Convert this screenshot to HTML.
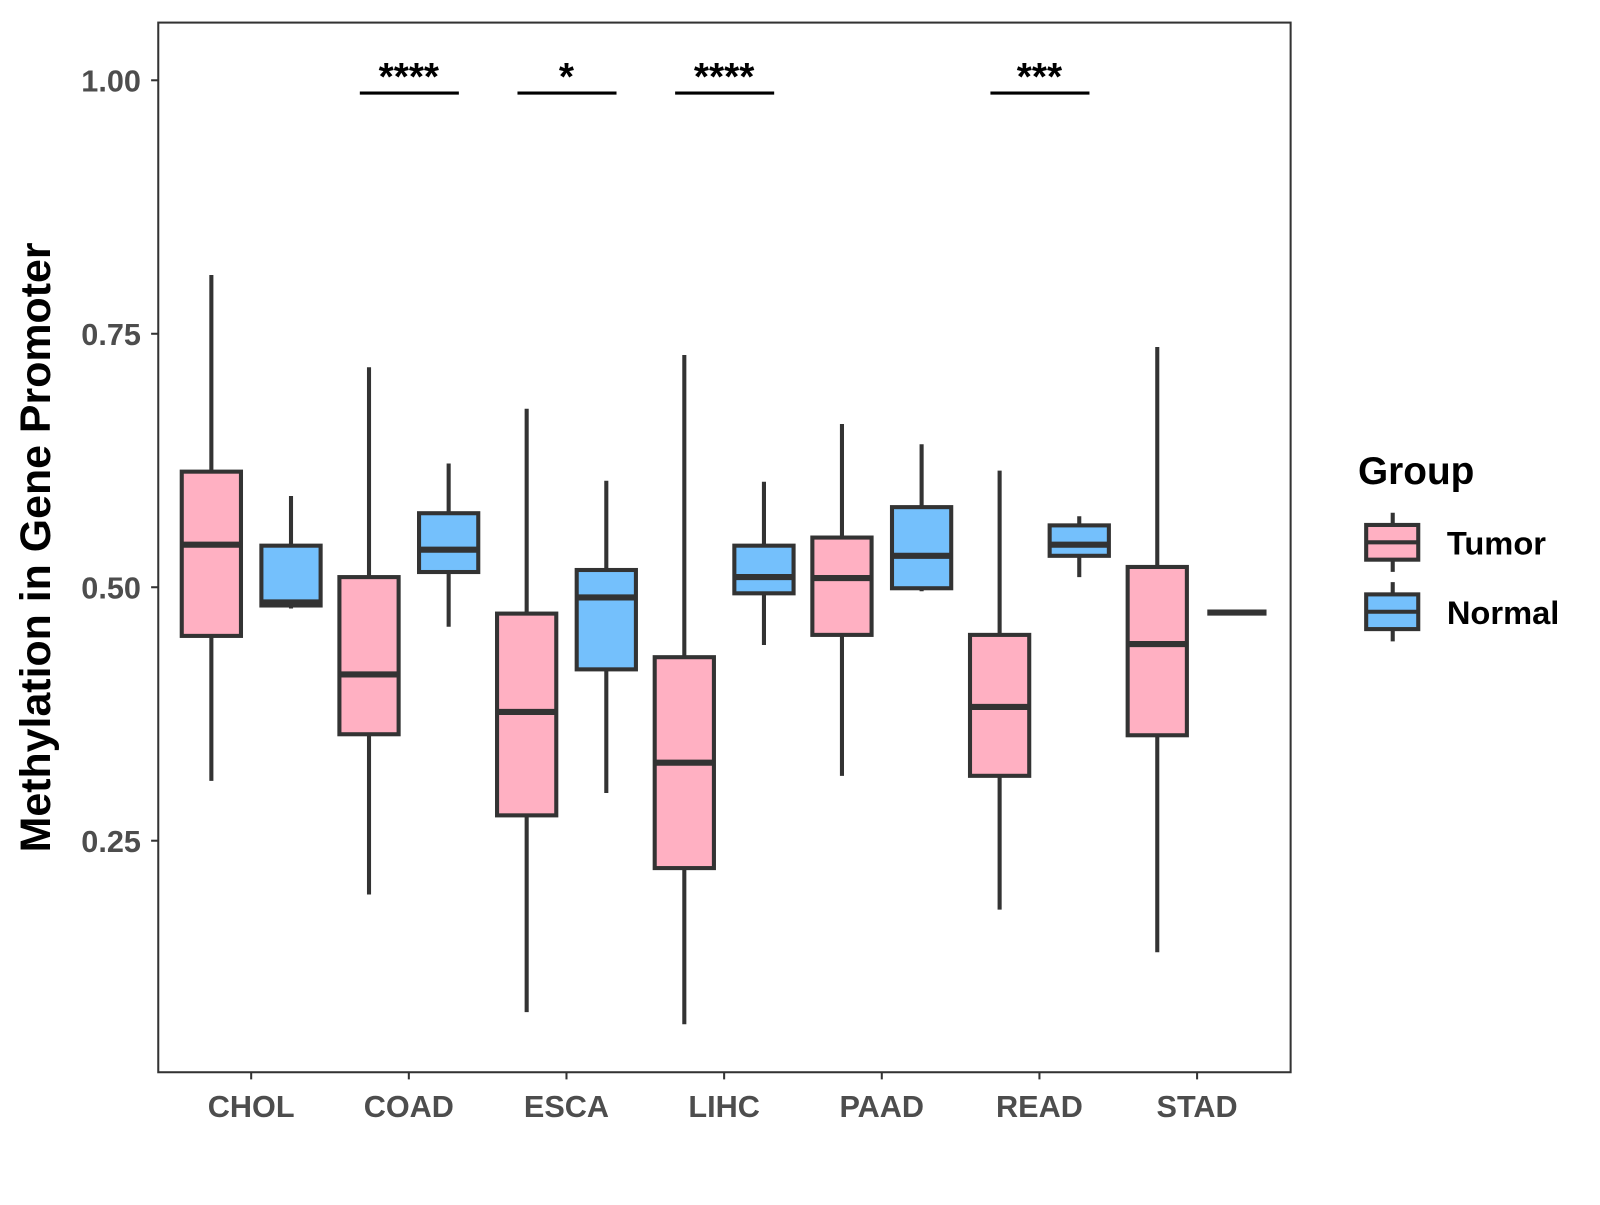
<!DOCTYPE html>
<html><head><meta charset="utf-8"><style>
body{margin:0;background:#fff;}
svg text{font-family:"Liberation Sans",Arial,sans-serif;font-weight:bold;}
</style></head><body>
<svg id="chart" width="1600" height="1200" viewBox="0 0 1567 1175" xmlns="http://www.w3.org/2000/svg">
<rect x="155" y="22" width="1109" height="1028" fill="#fff" stroke="#333" stroke-width="2"/>
<g id="marks"></g>
<text x="38" y="536" transform="rotate(-90 38 536)" text-anchor="middle" dominant-baseline="middle" font-size="42" fill="#000">Methylation in Gene Promoter</text>
<g>
<text x="1330" y="474" font-size="38" fill="#000">Group</text>
<g>
<line x1="1364" y1="502" x2="1364" y2="560" stroke="#333" stroke-width="4"/>
<rect x="1338" y="514" width="51" height="34" fill="#FFB0C2" stroke="#333" stroke-width="4"/>
<line x1="1338" y1="531" x2="1389" y2="531" stroke="#333" stroke-width="4"/>
<text x="1417" y="543" font-size="32" fill="#000">Tumor</text></g>
<g>
<line x1="1364" y1="570" x2="1364" y2="628" stroke="#333" stroke-width="4"/>
<rect x="1338" y="582" width="51" height="34" fill="#74C0FC" stroke="#333" stroke-width="4"/>
<line x1="1338" y1="599" x2="1389" y2="599" stroke="#333" stroke-width="4"/>
<text x="1417" y="611" font-size="32" fill="#000">Normal</text></g>
</g>
</svg>
<script>
const categories=["CHOL","COAD","ESCA","LIHC","PAAD","READ","STAD"];
// [low, q1, median, q3, high]
const tumorStats=[[0.309,0.452,0.542,0.614,0.808],[0.197,0.355,0.414,0.510,0.717],[0.081,0.275,0.377,0.474,0.676],[0.069,0.223,0.327,0.431,0.729],[0.314,0.453,0.509,0.549,0.661],[0.182,0.314,0.382,0.453,0.615],[0.140,0.354,0.444,0.520,0.737]];
const normalStats=[[0.479,0.482,0.485,0.541,0.590],[0.461,0.515,0.537,0.573,0.622],[0.297,0.419,0.490,0.517,0.605],[0.443,0.494,0.510,0.541,0.604],[0.496,0.499,0.531,0.579,0.641],[0.510,0.531,0.542,0.561,0.570],[0.475,0.475,0.475,0.475,0.475]];
const sigLabels=["","****","*","****","","***",""];
const yTicks=[0.25,0.5,0.75,1.0];
const yTickLabels=["0.25","0.50","0.75","1.00"];
const NS="http://www.w3.org/2000/svg";
const g=document.getElementById('marks');
function y(v){return 575-(v-0.5)*993;}
function xc(i){return 246+i*154.4;}
function mk(tag,at,parent){const e=document.createElementNS(NS,tag);for(const k in at)e.setAttribute(k,at[k]);(parent||g).appendChild(e);return e;}
yTicks.forEach((t,i)=>{
  const tk=mk('line',{x1:148,x2:155,y1:y(t),y2:y(t),stroke:'#333','stroke-width':2});
  
  
  const tx=mk('text',{x:138,y:y(t)+11,'text-anchor':'end','font-size':30,fill:'#4d4d4d'});
  tx.textContent=yTickLabels[i];
  
  
});
function box(cx,s,fill,name){
  const grp=mk('g',{});
  
  
  const w=29;
  mk('line',{x1:cx,x2:cx,y1:y(s[4]),y2:y(s[0]),stroke:'#333','stroke-width':4},grp);
  mk('rect',{x:cx-w,y:y(s[3]),width:2*w,height:Math.max(0,y(s[1])-y(s[3])),fill:fill,stroke:'#333','stroke-width':4},grp);
  mk('line',{x1:cx-w,x2:cx+w,y1:y(s[2]),y2:y(s[2]),stroke:'#333','stroke-width':6},grp);
}
categories.forEach((c,i)=>{
  const cx=xc(i);
  box(cx-39,tumorStats[i],'#FFB0C2','box-tumor-'+c.toLowerCase());
  box(cx+39,normalStats[i],'#74C0FC','box-normal-'+c.toLowerCase());
  const tk=mk('line',{x1:cx,x2:cx,y1:1050,y2:1057,stroke:'#333','stroke-width':2});
  
  
  const tx=mk('text',{x:cx,y:1094,'text-anchor':'middle','font-size':30,fill:'#4d4d4d'});
  tx.textContent=c;
  
  
  if(sigLabels[i]){
    const b=mk('line',{x1:cx-48,x2:cx+49,y1:91,y2:91,stroke:'#000','stroke-width':3});
    
    
    const st=mk('text',{x:cx,y:88,'text-anchor':'middle','font-size':38,fill:'#000'});
    st.textContent=sigLabels[i];
    
    
  }
});
</script>
</body></html>
